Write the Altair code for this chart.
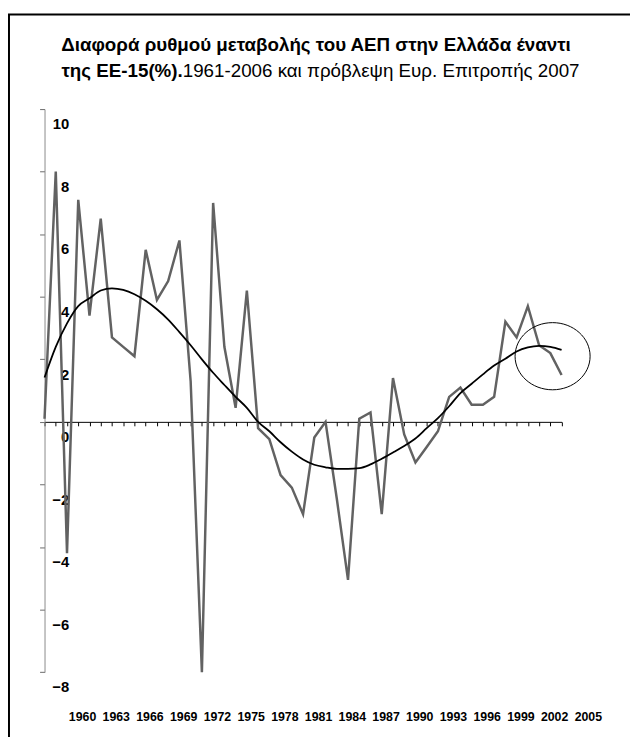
import altair as alt
import pandas as pd

# ---- data ----
years = list(range(1960, 2007))
gdp_diff = [0.1, 8.0, -4.2, 7.1, 3.4, 6.5, 2.7, 2.4, 2.1, 5.5,
            3.9, 4.5, 5.8, 1.3, -8.0, 7.0, 2.4, 0.45, 4.2, -0.2,
            -0.55, -1.7, -2.1, -2.95, -0.5, 0.0, -2.45, -5.05, 0.1, 0.3,
            -2.95, 1.4, -0.4, -1.3, -0.8, -0.3, 0.8, 1.1, 0.55, 0.55,
            0.8, 3.2, 2.7, 3.7, 2.45, 2.2, 1.5]
trend = [1.42, 2.4, 3.15, 3.7, 3.95, 4.2, 4.27, 4.22, 4.08, 3.87,
         3.6, 3.27, 2.87, 2.45, 2.0, 1.57, 1.18, 0.8, 0.45, 0.0,
         -0.3, -0.65, -0.95, -1.2, -1.37, -1.45, -1.5, -1.5, -1.48, -1.36,
         -1.18, -0.98, -0.77, -0.53, -0.2, 0.12, 0.5, 0.92, 1.22, 1.52,
         1.8, 2.02, 2.25, 2.38, 2.43, 2.4, 2.3]
x_tick_labels = list(range(1960, 2006, 3))
y_tick_values = list(range(-8, 11, 2))
annot_year = [2005.2]
annot_value = [2.1]

title_line1 = "Διαφορά ρυθμού μεταβολής του ΑΕΠ στην Ελλάδα έναντι"
title_line2_bold = "της ΕΕ-15(%)."
title_line2_rest = "1961-2006 και πρόβλεψη Ευρ. Επιτροπής 2007"

FONT = "Liberation Sans, Arial, sans-serif"

W = 523.7
H = 570.3

df = pd.DataFrame({"year": years, "diff": gdp_diff, "trend": trend})
ann = pd.DataFrame({"year": annot_year, "value": annot_value})
one = pd.DataFrame({"k": [0]})

xscale = alt.Scale(domain=[1960, 2006], nice=False, zero=False)
yscale = alt.Scale(domain=[-8, 10], nice=False, zero=False)

yaxis = alt.Axis(values=y_tick_values, orient="left", grid=False,
                 domainColor="#8a8a8a", domainWidth=1,
                 tickColor="#6a6a6a", tickSize=5, tickWidth=1,
                 labelAlign="right", labelPadding=-29.5, labelOffset=15,
                 labelFont=FONT, labelFontSize=15, labelFontWeight="bold",
                 labelColor="black", title=None)

zero_axis = alt.Axis(values=years, orient="bottom", offset=-253.5,
                     labels=False, grid=False, domainColor="black",
                     domainWidth=1, tickColor="black", tickSize=4,
                     tickWidth=1, title=None)

label_axis = alt.Axis(values=x_tick_labels, orient="bottom", ticks=False,
                      domain=False, grid=False, labelOffset=38,
                      labelPadding=38.5, labelFlush=False, labelOverlap=False,
                      labelBound=False, format="d",
                      labelFont=FONT, labelFontSize=12.5,
                      labelFontWeight="bold", labelColor="black", title=None)

frame = alt.Chart(one).mark_rect(fillOpacity=0, stroke="black",
                                  strokeWidth=2).encode(
    x=alt.value(-36), x2=alt.value(700),
    y=alt.value(-95.7), y2=alt.value(800))

t1 = alt.Chart(one).mark_text(text=title_line1, font=FONT, fontSize=19,
                               fontWeight="bold", align="center",
                               baseline="alphabetic", color="black").encode(
    x=alt.value(275), y=alt.value(-58.4))
t2a = alt.Chart(one).mark_text(text=title_line2_bold, font=FONT, fontSize=19,
                                fontWeight="bold", align="right",
                                baseline="alphabetic", color="black").encode(
    x=alt.value(140), y=alt.value(-32.4))
t2b = alt.Chart(one).mark_text(text=title_line2_rest, font=FONT, fontSize=19,
                                fontWeight="normal", align="left",
                                baseline="alphabetic", color="black").encode(
    x=alt.value(140), y=alt.value(-32.4))

gray = alt.Chart(df).mark_line(color="#626262", strokeWidth=2.5).encode(
    x=alt.X("year:Q", scale=xscale, axis=zero_axis),
    y=alt.Y("diff:Q", scale=yscale, axis=yaxis))

curve = alt.Chart(df).mark_line(color="black", strokeWidth=1.8,
                                interpolate="monotone").encode(
    x=alt.X("year:Q", scale=xscale, axis=label_axis),
    y=alt.Y("trend:Q", scale=yscale, axis=None))

ellipse = alt.Chart(ann).mark_point(
    shape="M-1,0A1,0.895,0,1,1,1,0A1,0.895,0,1,1,-1,0Z",
    size=5776, filled=False, color="black", strokeWidth=1,
    opacity=1).encode(
    x=alt.X("year:Q", scale=xscale, axis=None),
    y=alt.Y("value:Q", scale=yscale, axis=None))

chart = alt.layer(frame, t1, t2a, t2b, gray, curve, ellipse).resolve_axis(
    x="independent", y="independent").properties(
    width=W, height=H,
    autosize=alt.AutoSizeParams(type="none"),
    padding={"left": 37, "top": 97.7, "right": 69.3, "bottom": 61},
    background="white"
).configure_view(stroke=None)

chart.save("out.html", embed_options={"renderer": "svg", "actions": False})
